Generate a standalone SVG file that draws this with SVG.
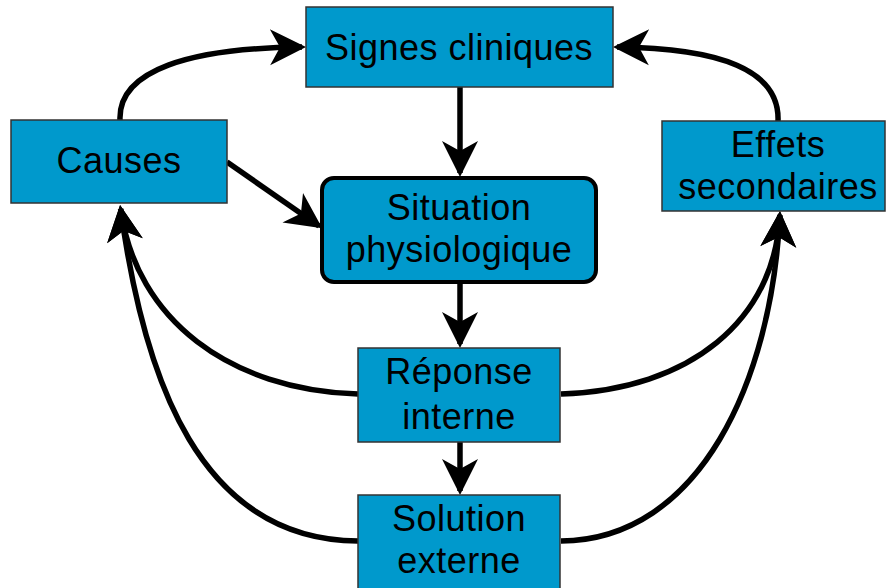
<svg xmlns="http://www.w3.org/2000/svg" width="886" height="588" viewBox="0 0 886 588">
<style>
.box{fill:#0099CC;stroke:#333;stroke-width:1.5}
.rbox{fill:#0099CC;stroke:#000;stroke-width:4}
.t{font-family:"Liberation Sans",Arial,sans-serif;font-size:36px;letter-spacing:0.5px;fill:#000;text-anchor:middle}
.c{fill:none;stroke:#000;stroke-width:5.5}
</style>
<defs>
<marker id="ah" markerUnits="userSpaceOnUse" markerWidth="40" markerHeight="40" refX="32" refY="18" orient="auto" overflow="visible">
<path d="M36,18 L0,0 L10,18 L0,36 Z" fill="#000"/>
</marker>
</defs>
<rect width="886" height="588" fill="#fff"/>
<g id="connectors">
<path class="c" d="M460,87 L460,173" marker-end="url(#ah)"/>
<path class="c" d="M460,283 L460,344" marker-end="url(#ah)"/>
<path class="c" d="M460,442 L460,491" marker-end="url(#ah)"/>
<path class="c" d="M227,162 L319,226" marker-end="url(#ah)"/>
<path class="c" d="M120,120 C118,70 190,48 302,47" marker-end="url(#ah)"/>
<path class="c" d="M778,121 C780,70 720,48 617,47" marker-end="url(#ah)"/>
<path class="c" d="M358,394 C230,390 136,320 120.6,209" marker-end="url(#ah)"/>
<path class="c" d="M358,541 C200,540 144,380 120.6,209" marker-end="url(#ah)"/>
<path class="c" d="M561,394 C690,390 775,320 779.8,215" marker-end="url(#ah)"/>
<path class="c" d="M561,541 C700,540 772,380 779.8,215" marker-end="url(#ah)"/>
</g>
<g id="signes">
<rect class="box" x="306" y="7" width="307" height="80"/>
<text class="t" x="459" y="60">Signes cliniques</text>
</g>
<g id="causes">
<rect class="box" x="11" y="120" width="216" height="83"/>
<text class="t" x="119" y="173">Causes</text>
</g>
<g id="situation">
<rect class="rbox" x="322" y="178" width="274" height="104" rx="12"/>
<text class="t" x="459" y="220">Situation</text>
<text class="t" x="459" y="262">physiologique</text>
</g>
<g id="effets">
<rect class="box" x="662" y="121" width="223" height="90"/>
<text class="t" x="778" y="157">Effets</text>
<text class="t" x="778" y="199">secondaires</text>
</g>
<g id="reponse">
<rect class="box" x="358" y="348" width="202" height="94"/>
<text class="t" x="459" y="384">Réponse</text>
<text class="t" x="459" y="429">interne</text>
</g>
<g id="solution">
<rect class="box" x="358" y="495" width="202" height="100"/>
<text class="t" x="459" y="531">Solution</text>
<text class="t" x="459" y="573">externe</text>
</g>
</svg>
